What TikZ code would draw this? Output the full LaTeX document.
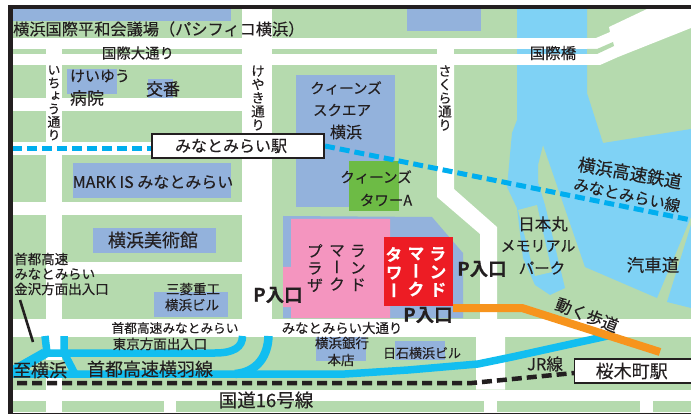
\documentclass[tikz,border=0pt]{standalone}
\usepackage{fontspec}
\setmainfont{Noto Sans CJK JP}[FakeBold=0.25,BoldFont={Noto Sans CJK JP Bold},BoldFeatures={FakeBold=0.5}]
\newfontfamily\vfont{Noto Sans CJK JP}[RawFeature=+vert,FakeBold=0.25,BoldFont={Noto Sans CJK JP Bold},BoldFeatures={FakeBold=0.3}]
\newcommand\fs[1]{\fontsize{#1}{#1}\selectfont}
\newcommand\vfs[2]{\vfont\fontsize{#1}{#2}\selectfont}
\definecolor{ink}{HTML}{231F20}
\definecolor{parkgreen}{HTML}{B5DAAE}
\definecolor{bldg}{HTML}{93B2DC}
\definecolor{water}{HTML}{7FD2F5}
\definecolor{hiway}{HTML}{12BEF0}
\definecolor{rail}{HTML}{00AEEF}
\definecolor{towergreen}{HTML}{6DBB45}
\definecolor{plaza}{HTML}{F495BF}
\definecolor{lmred}{HTML}{ED1C24}
\definecolor{walk}{HTML}{F7941D}
\tikzset{
  txt/.style={inner sep=0pt,text=ink},
  vtxt/.style={inner sep=0pt,text=ink,align=center},
  pin/.style={inner sep=0pt,text=ink,font=\fs{18.5}\bfseries},
  stationbox/.style={draw=ink,line width=1.4pt,fill=white,inner sep=0pt,minimum height=0pt},
  raildash/.style={rail,line width=5pt,dash pattern=on 10pt off 5pt},
  jrdash/.style={ink,line width=4.5pt,dash pattern=on 10pt off 5pt},
  hw/.style={hiway,line width=7.5pt},
}
\begin{document}
\begin{tikzpicture}[x=1pt,y=-1pt]
\useasboundingbox (0,0) rectangle (691,414);
\fill[white] (0,0) rectangle (691,414);
% land
\fill[parkgreen] (12,9) rectangle (691,412);
% water
\fill[water] (517,9)--(587,9)--(587,93)--(603,143)--(691,129)--(691,217)--(657,298)--(585,267)--(543,145)--(538,165)--(538,182)--(545,205)--(565,288)--(550,295)--(535,285)--(523,258)--(517,208)--(507,187)--(512,133)--(517,120)--cycle;
\fill[water] (667,302)--(691,225)--(691,308)--cycle;
\fill[parkgreen] (518,210)--(537,205)--(552,272)--(535,276)--cycle;
% roads
\fill[white] (12,38) rectangle (600,65);
\fill[white] (596,38)--(610,32)--(609,27)--(647,9)--(691,9)--(691,28)--(618,57)--(600,65)--cycle;
\fill[parkgreen] (12,49) rectangle (46,54);
\fill[parkgreen] (62,49) rectangle (242,54);
\fill[parkgreen] (272,49) rectangle (437,54);
\fill[parkgreen] (454,49) rectangle (517,54);
\fill[water] (517,49) rectangle (587,54);
\fill[parkgreen] (587,49)--(597,49)--(613,42)--(614,46)--(597,54)--(587,54)--cycle;
\fill[white] (46,38) rectangle (62,360);
\fill[white] (46,378) rectangle (62,412);
\fill[white] (242,9) rectangle (272,336);
\fill[white] (12,98) rectangle (242,111);
\fill[white] (12,142) rectangle (242,155);
\fill[white] (12,202) rectangle (242,215);
\fill[white] (46,262) rectangle (242,274);
\fill[white] (12,319) rectangle (691,336.5);
\fill[white] (12,389.5) rectangle (691,401);
\fill[white] (164,401) rectangle (176,412);
\fill[white] (484,401) rectangle (497,412);
\fill[white] (640,401) rectangle (653,412);
\fill[white] (437,65)--(454,65)--(454,189)--(497,227)--(497,319)--(505,319)--(505,389.5)--(476,389.5)--(476,319)--(480,319)--(480,234)--(437,197)--cycle;
% buildings
\fill[bldg] (12,9) rectangle (231,21);
\fill[bldg] (407,9) rectangle (481,31);
\fill[bldg] (67,69) rectangle (117,94);
\fill[bldg] (148,79) rectangle (173,98);
\fill[bldg] (73,163) rectangle (231,198);
\fill[bldg] (93,228) rectangle (216,253);
\fill[bldg] (154,292) rectangle (228,317);
\fill[bldg] (316,337) rectangle (366,361);
\fill[bldg] (395,341) rectangle (445,360);
\fill[bldg] (296,75) rectangle (395,207);
\fill[bldg] (283,216)--(432,217)--(463,253)--(463,318)--(283,318)--cycle;
\fill[towergreen] (349,161) rectangle (399,211);
\fill[plaza] (291,219)--(390,219)--(390,318)--(291,318)--(291,307)--(283,307)--(283,267)--(291,267)--cycle;
\fill[lmred] (384,237) rectangle (453,306);
% expressway
\coordinate (hwa) at (12,374);
\coordinate (hwb) at (345,374);
\coordinate (hwc) at (408,370);
\coordinate (hwd) at (478,364);
\coordinate (hwe) at (512,357);
\coordinate (hwf) at (612,335);
\draw[hw] (hwa)--(hwb)--(hwc)--(hwd)--(hwe)--(hwf);
\draw[hw,line width=8.5pt] (268.5,336) .. controls (268,355) and (258,372) .. (235,374);
\draw[hw] (242.5,336) .. controls (242.5,347) and (234,353) .. (215,353) -- (45,353);
\draw[hw] (45,336)--(47,353);
\draw[hw] (64,336)--(64,353)--(75,374);
\fill[hiway] (42,349)--(50,356)--(12,378)--(12,366)--cycle;
% pedestrian deck
\coordinate (wka) at (453,308);
\coordinate (wkb) at (522,308);
\coordinate (wkc) at (660,352);
\draw[walk,line width=8pt] (wka)--(wkb)--(wkc);
% rail lines
\coordinate (mm0) at (12,148.5);
\coordinate (mm1) at (152,148.5);
\coordinate (mm2) at (325,146);
\coordinate (mm3) at (691,220);
\draw[raildash] (mm0)--(mm1);
\draw[raildash] (mm2)--(mm3);
\coordinate (jr0) at (17,383);
\coordinate (jr1) at (472,383);
\coordinate (jr2) at (574,373);
\draw[jrdash] (jr0)--(jr1)--(jr2);
% frame
\fill[ink] (8,5) rectangle (691,9);
\fill[ink] (8,5) rectangle (12.5,414);
\fill[ink] (8,412.7) rectangle (691,414);
% stations
\node[stationbox,minimum width=172pt,minimum height=24pt,font=\fs{16},text=ink] (stmm) at (238,146) {\hspace*{-14pt}みなとみらい駅};
\node[stationbox,minimum width=120pt,minimum height=24pt,font=\fs{18},text=ink,anchor=west] (stsg) at (574,371) {\hspace*{-6pt}桜木町駅};
% labels
\node[txt,font=\fs{16.2},anchor=west] (l1) at (13,29) {横浜国際平和会議場（パシフィコ横浜）};
\node[txt,font=\fs{14.4}] (l2) at (138,53) {国際大通り};
\node[txt,font=\fs{15.5}] (l3) at (553,53) {国際橋};
\node[vtxt,font=\vfs{13}{13}] (l4) at (54,103) {い\\ち\\ょ\\う\\通\\り};
\node[vtxt,font=\vfs{13.5}{13.5}] (l5) at (258,98) {け\\や\\き\\通\\り};
\node[vtxt,font=\vfs{13.5}{13.5}] (l6) at (445,98) {さ\\く\\ら\\通\\り};
\node[txt,font=\fs{15}] (l7) at (100,76) {けいゆう};
\node[txt,font=\fs{17}] (l8) at (87,98) {病院};
\node[txt,font=\fs{17}] (l9) at (163,89) {交番};
\node[txt,font=\fs{16}] (l10) at (153,182) {MARK IS みなとみらい};
\node[txt,font=\fs{14.5}] (l11) at (346,88) {クィーンズ};
\node[txt,font=\fs{14.5}] (l12) at (342,110) {スクエア};
\node[txt,font=\fs{16}] (l13) at (346,132) {横浜};
\node[txt,font=\fs{14.5}] (l14) at (376,177) {クィーンズ};
\node[txt,font=\fs{14.5}] (l15) at (386,200) {タワーA};
\node[txt,font=\fs{18}] (l16) at (153,240) {横浜美術館};
\node[txt,font=\fs{13.5},anchor=west] (l17) at (14,259) {首都高速};
\node[txt,font=\fs{13.5},anchor=west] (l18) at (14,274) {みなとみらい};
\node[txt,font=\fs{13.5},anchor=west] (l19) at (14,289) {金沢方面出入口};
\node[txt,font=\fs{13.5}] (l20) at (193,289) {三菱重工};
\node[txt,font=\fs{13.5}] (l21) at (192,305) {横浜ビル};
\node[txt,font=\fs{12.7}] (l22) at (175,328) {首都高速みなとみらい};
\node[txt,font=\fs{13.5}] (l23) at (160,344) {東京方面出入口};
\node[txt,font=\fs{13.4}] (l24) at (342,328) {みなとみらい大通り};
\node[txt,font=\fs{13.5}] (l25) at (342,343) {横浜銀行};
\node[txt,font=\fs{13.5}] (l26) at (341,360) {本店};
\node[txt,font=\fs{13}] (l27) at (422,353) {日石横浜ビル};
\node[txt,font=\fs{18}] (l28) at (40,370) {至横浜};
\node[txt,font=\fs{18}] (l29) at (150,369) {首都高速横羽線};
\node[txt,font=\fs{18.5}] (l30) at (266,400) {国道16号線};
\node[txt,font=\fs{17.5},rotate=-10] (l31) at (630,173) {横浜高速鉄道};
\node[txt,font=\fs{15.5},rotate=-12] (l32) at (627,195) {みなとみらい線};
\node[txt,font=\fs{16.5}] (l33) at (543,224) {日本丸};
\node[txt,font=\fs{15}] (l34) at (538,246) {メモリアル};
\node[txt,font=\fs{15.5}] (l35) at (542,268) {パーク};
\node[txt,font=\fs{17.5}] (l36) at (653,265) {汽車道};
\node[txt,font=\fs{16.5},rotate=-21] (l37) at (587,315) {動く歩道};
\node[txt,font=\fs{16.5}] (l38) at (545,364) {JR線};
\node[pin] (p1) at (278,295) {P入口};
\node[pin] (p2) at (482,269) {P入口};
\node[pin] (p3) at (428,315) {P入口};
\node[vtxt,font=\vfs{16}{17}] (b1) at (358,268) {ラ\\ン\\ド};
\node[vtxt,font=\vfs{16}{17}] (b2) at (337,268) {マ\\ー\\ク};
\node[vtxt,font=\vfs{16}{17}] (b3) at (315,268) {プ\\ラ\\ザ};
\node[vtxt,text=white,font=\vfs{17}{18}\bfseries] (t1) at (438,272) {ラ\\ン\\ド};
\node[vtxt,text=white,font=\vfs{17}{18}\bfseries] (t2) at (416,272) {マ\\ー\\ク};
\node[vtxt,text=white,font=\vfs{17}{18}\bfseries] (t3) at (394,272) {タ\\ワ\\ー};
% leader
\coordinate (ld0) at (20,300);
\coordinate (ld1) at (33,342);
\draw[ink,line width=2.6pt] (ld0)--(ld1);
\end{tikzpicture}
\end{document}
